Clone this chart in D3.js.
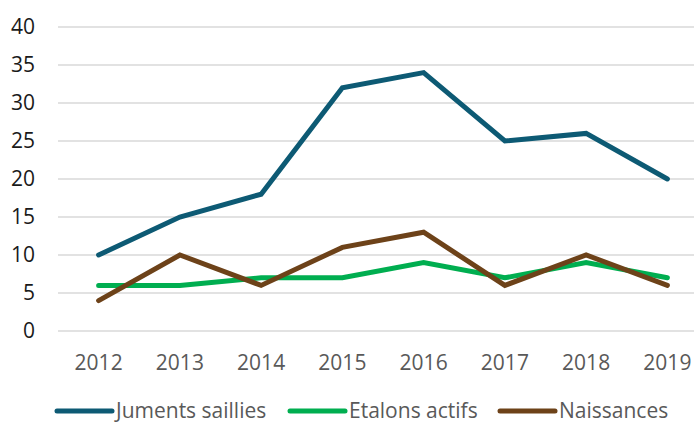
<!DOCTYPE html>
<html>
<head>
<meta charset="utf-8">
<script src="https://cdn.jsdelivr.net/npm/d3@7"></script>
<style>
  html, body { margin: 0; padding: 0; background: #fff; }
  svg { display: block; font-family: "Open Sans", sans-serif; }
</style>
</head>
<body>
<div id="chart"></div>
<script>
// données
var years = ['2012', '2013', '2014', '2015', '2016', '2017', '2018', '2019']
var juments = [10, 15, 18, 32, 34, 25, 26, 20]
var etalons = [6, 6, 7, 7, 9, 7, 9, 7]
var naissances = [4, 10, 6, 11, 13, 6, 10, 6]
var seriesNames = ['Juments saillies', 'Etalons actifs', 'Naissances']
var yTicks = [0, 5, 10, 15, 20, 25, 30, 35, 40]

var colors = ['#0d5a74', '#00ae50', '#6d4219']
var series = [juments, etalons, naissances].map((values, i) => ({
  name: seriesNames[i],
  values: values,
  color: colors[i]
}))

var width = 694
var height = 425
var plotLeft = 58
var plotRight = 708
var plotTop = 27
var plotBottom = 331

var x = d3.scaleBand()
  .domain(years)
  .range([plotLeft, plotRight])

var y = d3.scaleLinear()
  .domain([0, 40])
  .range([plotBottom, plotTop])

var svg = d3.select('#chart')
  .append('svg')
  .attr('width', width)
  .attr('height', height)

// grille
svg.append('g')
  .selectAll('line')
  .data(yTicks)
  .enter()
  .append('line')
  .attr('x1', plotLeft)
  .attr('x2', plotRight)
  .attr('y1', d => y(d))
  .attr('y2', d => y(d))
  .attr('stroke', '#d9d9d9')
  .attr('stroke-width', 1.5)

// axe Y
svg.append('g')
  .selectAll('text')
  .data(yTicks)
  .enter()
  .append('text')
  .attr('x', 35)
  .attr('y', d => y(d))
  .attr('dy', '0.35em')
  .attr('text-anchor', 'end')
  .attr('font-size', '21px')
  .attr('fill', '#1a1a1a')
  .text(d => d)

// axe X
svg.append('g')
  .selectAll('text')
  .data(years)
  .enter()
  .append('text')
  .attr('x', d => x(d) + x.bandwidth() / 2)
  .attr('y', 370)
  .attr('text-anchor', 'middle')
  .attr('font-size', '21px')
  .attr('fill', '#595959')
  .text(d => d)

// courbes
var line = d3.line()
  .x((d, i) => x(years[i]) + x.bandwidth() / 2)
  .y(d => y(d))

svg.append('g')
  .selectAll('path')
  .data(series)
  .enter()
  .append('path')
  .attr('d', d => line(d.values))
  .attr('fill', 'none')
  .attr('stroke', d => d.color)
  .attr('stroke-width', 5)
  .attr('stroke-linecap', 'round')
  .attr('stroke-linejoin', 'miter')

// légende
var legendX = [57, 290, 500]
var legend = svg.append('g')
  .selectAll('g')
  .data(series)
  .enter()
  .append('g')
  .attr('transform', (d, i) => `translate(${legendX[i]}, 411)`)

legend.append('line')
  .attr('x1', 0)
  .attr('x2', 55)
  .attr('stroke', d => d.color)
  .attr('stroke-width', 5)
  .attr('stroke-linecap', 'round')

legend.append('text')
  .attr('x', 59)
  .attr('dy', '0.35em')
  .attr('font-size', '21px')
  .attr('fill', '#595959')
  .text(d => d.name)
</script>
</body>
</html>
